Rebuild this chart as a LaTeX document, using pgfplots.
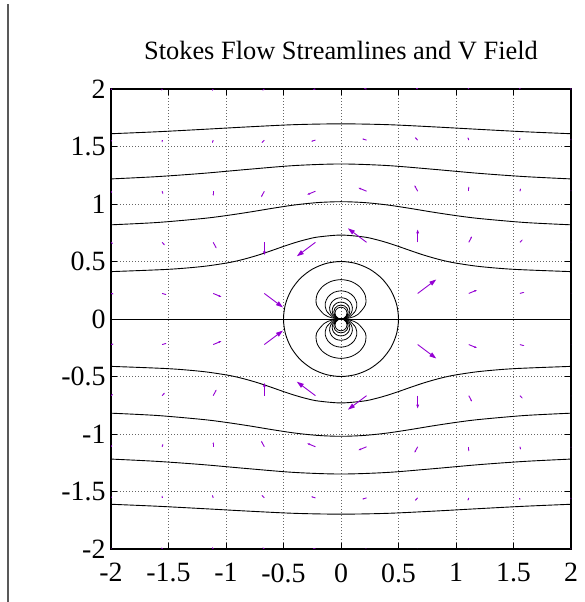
\documentclass[border=0pt]{standalone}
\usepackage{pgfplots}
\pgfplotsset{compat=1.18}
\usepackage{pgfplotstable}
\usepackage{fontspec}
\setmainfont{Liberation Serif}
\usetikzlibrary{arrows.meta}
\definecolor{vio}{HTML}{9400D3}

\pgfplotstableread{
x y u v
-2 -2 0 0.0125
-2 -1.55556 0.00383 0.0151
-2 -1.11111 0.01009 0.01622
-2 -0.66667 0.018 0.0135
-2 -0.22222 0.02409 0.00542
-2 0.22222 0.02409 -0.00542
-2 0.66667 0.018 -0.0135
-2 1.11111 0.01009 -0.01622
-2 1.55556 0.00383 -0.0151
-2 2 0 -0.0125
-1.55556 -2 -0.00383 0.0151
-1.55556 -1.55556 0 0.02066
-1.55556 -1.11111 0.00888 0.02589
-1.55556 -0.66667 0.02408 0.02528
-1.55556 -0.22222 0.03888 0.01134
-1.55556 0.22222 0.03888 -0.01134
-1.55556 0.66667 0.02408 -0.02528
-1.55556 1.11111 0.00888 -0.02589
-1.55556 1.55556 0 -0.02066
-1.55556 2 -0.00383 -0.0151
-1.11111 -2 -0.01009 0.01622
-1.11111 -1.55556 -0.00888 0.02589
-1.11111 -1.11111 0 0.0405
-1.11111 -0.66667 0.02803 0.05255
-1.11111 -0.22222 0.07189 0.02996
-1.11111 0.22222 0.07189 -0.02996
-1.11111 0.66667 0.02803 -0.05255
-1.11111 1.11111 0 -0.0405
-1.11111 1.55556 -0.00888 -0.02589
-1.11111 2 -0.01009 -0.01622
-0.66667 -2 -0.018 0.0135
-0.66667 -1.55556 -0.02408 0.02528
-0.66667 -1.11111 -0.02803 0.05255
-0.66667 -0.66667 0 0.1125
-0.66667 -0.22222 0.162 0.1215
-0.66667 0.22222 0.162 -0.1215
-0.66667 0.66667 0 -0.1125
-0.66667 1.11111 -0.02803 -0.05255
-0.66667 1.55556 -0.02408 -0.02528
-0.66667 2 -0.018 -0.0135
-0.22222 -2 -0.02409 0.00542
-0.22222 -1.55556 -0.03888 0.01134
-0.22222 -1.11111 -0.07189 0.02996
-0.22222 -0.66667 -0.162 0.1215
-0.22222 0.66667 -0.162 -0.1215
-0.22222 1.11111 -0.07189 -0.02996
-0.22222 1.55556 -0.03888 -0.01134
-0.22222 2 -0.02409 -0.00542
0.22222 -2 -0.02409 -0.00542
0.22222 -1.55556 -0.03888 -0.01134
0.22222 -1.11111 -0.07189 -0.02996
0.22222 -0.66667 -0.162 -0.1215
0.22222 0.66667 -0.162 0.1215
0.22222 1.11111 -0.07189 0.02996
0.22222 1.55556 -0.03888 0.01134
0.22222 2 -0.02409 0.00542
0.66667 -2 -0.018 -0.0135
0.66667 -1.55556 -0.02408 -0.02528
0.66667 -1.11111 -0.02803 -0.05255
0.66667 -0.66667 0 -0.1125
0.66667 -0.22222 0.162 -0.1215
0.66667 0.22222 0.162 0.1215
0.66667 0.66667 0 0.1125
0.66667 1.11111 -0.02803 0.05255
0.66667 1.55556 -0.02408 0.02528
0.66667 2 -0.018 0.0135
1.11111 -2 -0.01009 -0.01622
1.11111 -1.55556 -0.00888 -0.02589
1.11111 -1.11111 0 -0.0405
1.11111 -0.66667 0.02803 -0.05255
1.11111 -0.22222 0.07189 -0.02996
1.11111 0.22222 0.07189 0.02996
1.11111 0.66667 0.02803 0.05255
1.11111 1.11111 0 0.0405
1.11111 1.55556 -0.00888 0.02589
1.11111 2 -0.01009 0.01622
1.55556 -2 -0.00383 -0.0151
1.55556 -1.55556 0 -0.02066
1.55556 -1.11111 0.00888 -0.02589
1.55556 -0.66667 0.02408 -0.02528
1.55556 -0.22222 0.03888 -0.01134
1.55556 0.22222 0.03888 0.01134
1.55556 0.66667 0.02408 0.02528
1.55556 1.11111 0.00888 0.02589
1.55556 1.55556 0 0.02066
1.55556 2 -0.00383 0.0151
2 -2 0 -0.0125
2 -1.55556 0.00383 -0.0151
2 -1.11111 0.01009 -0.01622
2 -0.66667 0.018 -0.0135
2 -0.22222 0.02409 -0.00542
2 0.22222 0.02409 0.00542
2 0.66667 0.018 0.0135
2 1.11111 0.01009 0.01622
2 1.55556 0.00383 0.0151
2 2 0 0.0125
}\vectab

\begin{document}
\begin{tikzpicture}
\begin{axis}[
  at={(111bp,53bp)}, anchor=south west,
  scale only axis, width=460bp, height=460bp,
  xmin=-2, xmax=2, ymin=-2, ymax=2,
  xtick={-2,-1.5,-1,-0.5,0,0.5,1,1.5,2},
  ytick={-2,-1.5,-1,-0.5,0,0.5,1,1.5,2},
  xticklabels={-2,-1.5,-1,-0.5,0,0.5,1,1.5,2},
  yticklabels={-2,-1.5,-1,-0.5,0,0.5,1,1.5,2},
  tick align=inside, major tick length=6bp,
  tick style={black, line width=0.9bp},
  grid=major,
  grid style={dash pattern=on 1bp off 2bp, black!60, line width=0.7bp},
  axis line style={line width=1.2bp},
  ticklabel style={font=\fontsize{28}{30}\selectfont},
  xticklabel style={yshift=-11bp},
  yticklabel style={xshift=-2bp},
  title={Stokes Flow Streamlines and V Field},
  title style={font=\fontsize{26.5}{28}\selectfont, at={(0.5,1)}, anchor=base, yshift=24bp},
  point meta min=0, point meta max=0.2025,
]
% streamlines (upper)
\addplot[black, line width=0.9bp, smooth] coordinates {(-2,1.611) (-1.6,1.628) (-1.2,1.649) (-0.8,1.671) (-0.4,1.690) (0,1.697) (0.4,1.690) (0.8,1.671) (1.2,1.649) (1.6,1.628) (2,1.611)};
\addplot[black, line width=0.9bp, smooth] coordinates {(-2,1.218) (-1.6,1.238) (-1.2,1.2665) (-0.8,1.302) (-0.4,1.3345) (0,1.348) (0.4,1.3345) (0.8,1.302) (1.2,1.2665) (1.6,1.238) (2,1.218)};
\addplot[black, line width=0.9bp, smooth] coordinates {(-2,0.819) (-1.6,0.839) (-1.2,0.874) (-1,0.899) (-0.8,0.929) (-0.6,0.962) (-0.4,0.992) (-0.2,1.0125) (0,1.020) (0.2,1.0125) (0.4,0.992) (0.6,0.962) (0.8,0.929) (1,0.899) (1.2,0.874) (1.6,0.839) (2,0.819)};
\addplot[black, line width=0.9bp, smooth] coordinates {(-2,0.412) (-1.5,0.432) (-1.2,0.457) (-1,0.486) (-0.9,0.506) (-0.8,0.532) (-0.7,0.562) (-0.6,0.596) (-0.5,0.631) (-0.4,0.664) (-0.3,0.692) (-0.2,0.713) (0,0.730) (0.2,0.713) (0.3,0.692) (0.4,0.664) (0.5,0.631) (0.6,0.596) (0.7,0.562) (0.8,0.532) (0.9,0.506) (1,0.486) (1.2,0.457) (1.5,0.432) (2,0.412)};
% streamlines (lower)
\addplot[black, line width=0.9bp, smooth] coordinates {(-2,-1.611) (-1.6,-1.628) (-1.2,-1.649) (-0.8,-1.671) (-0.4,-1.690) (0,-1.697) (0.4,-1.690) (0.8,-1.671) (1.2,-1.649) (1.6,-1.628) (2,-1.611)};
\addplot[black, line width=0.9bp, smooth] coordinates {(-2,-1.218) (-1.6,-1.238) (-1.2,-1.2665) (-0.8,-1.302) (-0.4,-1.3345) (0,-1.348) (0.4,-1.3345) (0.8,-1.302) (1.2,-1.2665) (1.6,-1.238) (2,-1.218)};
\addplot[black, line width=0.9bp, smooth] coordinates {(-2,-0.819) (-1.6,-0.839) (-1.2,-0.874) (-1,-0.899) (-0.8,-0.929) (-0.6,-0.962) (-0.4,-0.992) (-0.2,-1.0125) (0,-1.020) (0.2,-1.0125) (0.4,-0.992) (0.6,-0.962) (0.8,-0.929) (1,-0.899) (1.2,-0.874) (1.6,-0.839) (2,-0.819)};
\addplot[black, line width=0.9bp, smooth] coordinates {(-2,-0.412) (-1.5,-0.432) (-1.2,-0.457) (-1,-0.486) (-0.9,-0.506) (-0.8,-0.532) (-0.7,-0.562) (-0.6,-0.596) (-0.5,-0.631) (-0.4,-0.664) (-0.3,-0.692) (-0.2,-0.713) (0,-0.730) (0.2,-0.713) (0.3,-0.692) (0.4,-0.664) (0.5,-0.631) (0.6,-0.596) (0.7,-0.562) (0.8,-0.532) (0.9,-0.506) (1,-0.486) (1.2,-0.457) (1.5,-0.432) (2,-0.412)};
% zero streamline: axis and circle
\addplot[black, line width=0.9bp] coordinates {(-2,0) (2,0)};
\addplot[black, line width=0.9bp, smooth cycle] coordinates {(0.5,0) (0.48296,0.12941) (0.43301,0.25) (0.35355,0.35355) (0.25,0.43301) (0.12941,0.48296) (0,0.5) (-0.12941,0.48296) (-0.25,0.43301) (-0.35355,0.35355) (-0.43301,0.25) (-0.48296,0.12941) (-0.5,0) (-0.48296,-0.12941) (-0.43301,-0.25) (-0.35355,-0.35355) (-0.25,-0.43301) (-0.12941,-0.48296) (0,-0.5) (0.12941,-0.48296) (0.25,-0.43301) (0.35355,-0.35355) (0.43301,-0.25) (0.48296,-0.12941)};
% inner loops (upper)
\addplot[black, line width=0.8bp, smooth cycle] coordinates {(0,0) (0.08125,0.01070) (0.14646,0.03925) (0.21225,0.12254) (0.20941,0.20941) (0.16202,0.28063) (0.08752,0.32663) (0,0.34248) (-0.08752,0.32663) (-0.16202,0.28063) (-0.20941,0.20941) (-0.21225,0.12254) (-0.14646,0.03925) (-0.08125,0.01070)};
\addplot[black, line width=0.8bp, smooth cycle] coordinates {(0,0) (0.04145,0.00546) (0.07851,0.02104) (0.12756,0.07365) (0.13705,0.13705) (0.11177,0.19358) (0.06209,0.23171) (0,0.24508) (-0.06209,0.23171) (-0.11177,0.19358) (-0.13705,0.13705) (-0.12756,0.07365) (-0.07851,0.02104) (-0.04145,0.00546)};
\addplot[black, line width=0.8bp, smooth cycle] coordinates {(0,0) (0.02774,0.00365) (0.05311,0.01423) (0.08917,0.05148) (0.09908,0.09908) (0.08289,0.14356) (0.04675,0.17447) (0,0.18546) (-0.04675,0.17447) (-0.08289,0.14356) (-0.09908,0.09908) (-0.08917,0.05148) (-0.05311,0.01423) (-0.02774,0.00365)};
\addplot[black, line width=0.8bp, smooth cycle] coordinates {(0,0) (0.02084,0.00274) (0.04005,0.01073) (0.06811,0.03933) (0.07684,0.07684) (0.06511,0.11277) (0.03702,0.13817) (0,0.14729) (-0.03702,0.13817) (-0.06511,0.11277) (-0.07684,0.07684) (-0.06811,0.03933) (-0.04005,0.01073) (-0.02084,0.00274)};
\addplot[black, line width=0.8bp, smooth cycle] coordinates {(0,0) (0.01668,0.00220) (0.03212,0.00861) (0.05497,0.03174) (0.0625,0.0625) (0.05333,0.09237) (0.03047,0.11372) (0,0.12142) (-0.03047,0.11372) (-0.05333,0.09237) (-0.0625,0.0625) (-0.05497,0.03174) (-0.03212,0.00861) (-0.01668,0.00220)};
\addplot[black, line width=0.8bp, smooth cycle] coordinates {(0,0) (0.01390,0.00183) (0.02680,0.00718) (0.04604,0.02658) (0.05258,0.05258) (0.04505,0.07803) (0.02581,0.09633) (0,0.10297) (-0.02581,0.09633) (-0.04505,0.07803) (-0.05258,0.05258) (-0.04604,0.02658) (-0.02680,0.00718) (-0.01390,0.00183)};
% inner loops (lower)
\addplot[black, line width=0.8bp, smooth cycle] coordinates {(0,0) (0.08125,-0.01070) (0.14646,-0.03925) (0.21225,-0.12254) (0.20941,-0.20941) (0.16202,-0.28063) (0.08752,-0.32663) (0,-0.34248) (-0.08752,-0.32663) (-0.16202,-0.28063) (-0.20941,-0.20941) (-0.21225,-0.12254) (-0.14646,-0.03925) (-0.08125,-0.01070)};
\addplot[black, line width=0.8bp, smooth cycle] coordinates {(0,0) (0.04145,-0.00546) (0.07851,-0.02104) (0.12756,-0.07365) (0.13705,-0.13705) (0.11177,-0.19358) (0.06209,-0.23171) (0,-0.24508) (-0.06209,-0.23171) (-0.11177,-0.19358) (-0.13705,-0.13705) (-0.12756,-0.07365) (-0.07851,-0.02104) (-0.04145,-0.00546)};
\addplot[black, line width=0.8bp, smooth cycle] coordinates {(0,0) (0.02774,-0.00365) (0.05311,-0.01423) (0.08917,-0.05148) (0.09908,-0.09908) (0.08289,-0.14356) (0.04675,-0.17447) (0,-0.18546) (-0.04675,-0.17447) (-0.08289,-0.14356) (-0.09908,-0.09908) (-0.08917,-0.05148) (-0.05311,-0.01423) (-0.02774,-0.00365)};
\addplot[black, line width=0.8bp, smooth cycle] coordinates {(0,0) (0.02084,-0.00274) (0.04005,-0.01073) (0.06811,-0.03933) (0.07684,-0.07684) (0.06511,-0.11277) (0.03702,-0.13817) (0,-0.14729) (-0.03702,-0.13817) (-0.06511,-0.11277) (-0.07684,-0.07684) (-0.06811,-0.03933) (-0.04005,-0.01073) (-0.02084,-0.00274)};
\addplot[black, line width=0.8bp, smooth cycle] coordinates {(0,0) (0.01668,-0.00220) (0.03212,-0.00861) (0.05497,-0.03174) (0.0625,-0.0625) (0.05333,-0.09237) (0.03047,-0.11372) (0,-0.12142) (-0.03047,-0.11372) (-0.05333,-0.09237) (-0.0625,-0.0625) (-0.05497,-0.03174) (-0.03212,-0.00861) (-0.01668,-0.00220)};
\addplot[black, line width=0.8bp, smooth cycle] coordinates {(0,0) (0.01390,-0.00183) (0.02680,-0.00718) (0.04604,-0.02658) (0.05258,-0.05258) (0.04505,-0.07803) (0.02581,-0.09633) (0,-0.10297) (-0.02581,-0.09633) (-0.04505,-0.07803) (-0.05258,-0.05258) (-0.04604,-0.02658) (-0.02680,-0.00718) (-0.01390,-0.00183)};
% velocity field
\addplot[vio, line width=0.9bp,
  point meta={sqrt((\thisrow{u})^2+(\thisrow{v})^2)},
  quiver={u=\thisrow{u}, v=\thisrow{v},
    every arrow/.append style={-{Triangle[length=7bp,width=4.5bp,scale={max(0.25,\pgfplotspointmetatransformed/1000)}]}}},
] table[x=x, y=y] {\vectab};
\end{axis}
\draw[line width=1.3bp, black!65] (8bp,0) -- (8bp,598bp);
\pgfresetboundingbox
\useasboundingbox (0,0) rectangle (585bp,602bp);
\end{tikzpicture}
\end{document}
